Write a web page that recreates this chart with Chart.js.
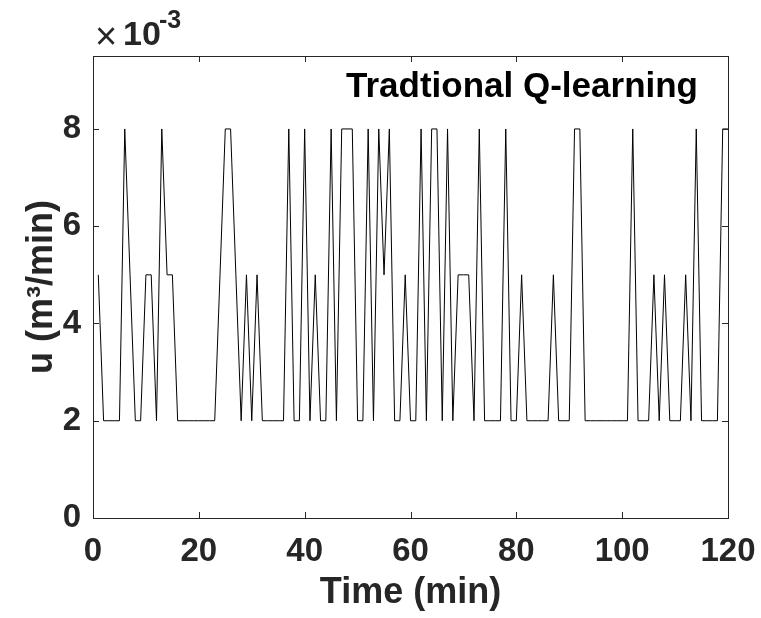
<!DOCTYPE html>
<html>
<head>
<meta charset="utf-8">
<title>Tradtional Q-learning</title>
<script src="https://cdn.jsdelivr.net/npm/chart.js@4/dist/chart.umd.min.js"></script>
<style>
  html, body { margin: 0; padding: 0; background: #fff; }
  canvas { display: block; }
</style>
</head>
<body>
<canvas id="uChart" width="761" height="618"></canvas>
<script>
// time steps (min)
const timeMin = [
    1, 2, 3, 4, 5, 6, 7, 8, 9, 10, 11, 12, 13, 14, 15, 16, 17, 18, 19, 20,
    21, 22, 23, 24, 25, 26, 27, 28, 29, 30, 31, 32, 33, 34, 35, 36, 37, 38, 39, 40,
    41, 42, 43, 44, 45, 46, 47, 48, 49, 50, 51, 52, 53, 54, 55, 56, 57, 58, 59, 60,
    61, 62, 63, 64, 65, 66, 67, 68, 69, 70, 71, 72, 73, 74, 75, 76, 77, 78, 79, 80,
    81, 82, 83, 84, 85, 86, 87, 88, 89, 90, 91, 92, 93, 94, 95, 96, 97, 98, 99, 100,
    101, 102, 103, 104, 105, 106, 107, 108, 109, 110, 111, 112, 113, 114, 115, 116, 117, 118, 119, 120
];

// u in m^3/min, x 10^-3
const uFlow = [
    5, 2, 2, 2, 2, 8, 5, 2, 2, 5, 5, 2, 8, 5, 5, 2, 2, 2, 2, 2,
    2, 2, 2, 5, 8, 8, 5, 2, 5, 2, 5, 2, 2, 2, 2, 2, 8, 2, 2, 8,
    2, 5, 2, 2, 8, 2, 8, 8, 8, 2, 2, 8, 2, 8, 5, 8, 2, 2, 5, 2,
    2, 8, 2, 8, 8, 2, 8, 2, 5, 5, 5, 2, 8, 2, 2, 2, 2, 8, 2, 2,
    5, 2, 2, 2, 2, 2, 5, 2, 2, 2, 8, 8, 2, 2, 2, 2, 2, 2, 2, 2,
    2, 8, 2, 2, 2, 5, 2, 5, 2, 2, 2, 5, 2, 8, 2, 2, 2, 2, 8, 8
];

const xTicks = [0, 20, 40, 60, 80, 100, 120];
const yTicks = [0, 2, 4, 6, 8];

const FONT = "'Liberation Sans', Arial, Helvetica, sans-serif";
const AXIS_COLOR = '#262626';

// matlab style box + inward ticks + exponent + text label
const matlabAxes = {
    id: 'matlabAxes',
    afterDraw(chart) {
        const ctx = chart.ctx;
        const a = chart.chartArea;
        const xs = chart.scales.x;
        const ys = chart.scales.y;
        const len = 6;
        ctx.save();
        ctx.strokeStyle = AXIS_COLOR;
        ctx.lineWidth = 1;
        ctx.beginPath();
        xTicks.forEach(v => {
            const px = Math.round(xs.getPixelForValue(v)) + 0.5;
            ctx.moveTo(px, a.bottom); ctx.lineTo(px, a.bottom - len);
            ctx.moveTo(px, a.top); ctx.lineTo(px, a.top + len);
        });
        yTicks.forEach(v => {
            const py = Math.round(ys.getPixelForValue(v)) + 0.5;
            ctx.moveTo(a.left, py); ctx.lineTo(a.left + len, py);
            ctx.moveTo(a.right, py); ctx.lineTo(a.right - len, py);
        });
        ctx.stroke();
        ctx.strokeRect(Math.round(a.left) + 0.5, Math.round(a.top) + 0.5,
            Math.round(a.right - a.left), Math.round(a.bottom - a.top));

        // x 10^-3
        ctx.fillStyle = AXIS_COLOR;
        ctx.textBaseline = 'alphabetic';
        ctx.textAlign = 'left';
        ctx.font = `normal 38px ${FONT}`;
        ctx.fillText('\u00d7', 95, 49);
        ctx.font = `bold 34px ${FONT}`;
        ctx.fillText('10', 123, 45);
        ctx.font = `bold 25px ${FONT}`;
        ctx.fillText('-3', 159, 28);

        // series label
        ctx.fillStyle = '#000';
        ctx.textAlign = 'right';
        ctx.font = `bold 35px ${FONT}`;
        ctx.fillText('Tradtional Q-learning', 698, 97);
        ctx.restore();
    }
};

function renderChart() {
    const ctx = document.getElementById('uChart').getContext('2d');
    new Chart(ctx, {
        type: 'line',
        data: {
            labels: timeMin,
            datasets: [{
                label: 'Tradtional Q-learning',
                data: uFlow,
                borderColor: '#000',
                borderWidth: 1,
                pointRadius: 0,
                tension: 0,
                fill: false
            }]
        },
        options: {
            responsive: false,
            animation: false,
            layout: { padding: { top: 56, right: 33, bottom: 0, left: 0 } },
            plugins: { legend: { display: false }, tooltip: { enabled: false } },
            scales: {
                x: {
                    type: 'linear',
                    min: 0,
                    max: 120,
                    afterFit: s => { s.height = 100; s.paddingLeft = 0; s.paddingRight = 0; },
                    afterBuildTicks: s => { s.ticks = xTicks.map(v => ({ value: v })); },
                    grid: { display: false, drawTicks: false },
                    border: { display: false },
                    ticks: {
                        padding: 14,
                        maxRotation: 0,
                        color: AXIS_COLOR,
                        font: { family: FONT, size: 33, weight: 'bold' }
                    },
                    title: {
                        display: true,
                        text: 'Time (min)',
                        color: AXIS_COLOR,
                        padding: { top: 0, bottom: 3 },
                        font: { family: FONT, size: 36, weight: 'bold' }
                    }
                },
                y: {
                    min: 0,
                    max: 9.5,
                    afterFit: s => { s.width = 93; s.paddingTop = 0; s.paddingBottom = 0; },
                    afterBuildTicks: s => { s.ticks = yTicks.map(v => ({ value: v })); },
                    grid: { display: false, drawTicks: false },
                    border: { display: false },
                    ticks: {
                        padding: 12,
                        color: AXIS_COLOR,
                        font: { family: FONT, size: 33, weight: 'bold' }
                    },
                    title: {
                        display: true,
                        text: 'u (m\u00b3/min)',
                        color: AXIS_COLOR,
                        padding: { top: 20, bottom: 0 },
                        font: { family: FONT, size: 36, weight: 'bold' }
                    }
                }
            }
        },
        plugins: [matlabAxes]
    });
}

document.addEventListener('DOMContentLoaded', renderChart);
</script>
</body>
</html>
